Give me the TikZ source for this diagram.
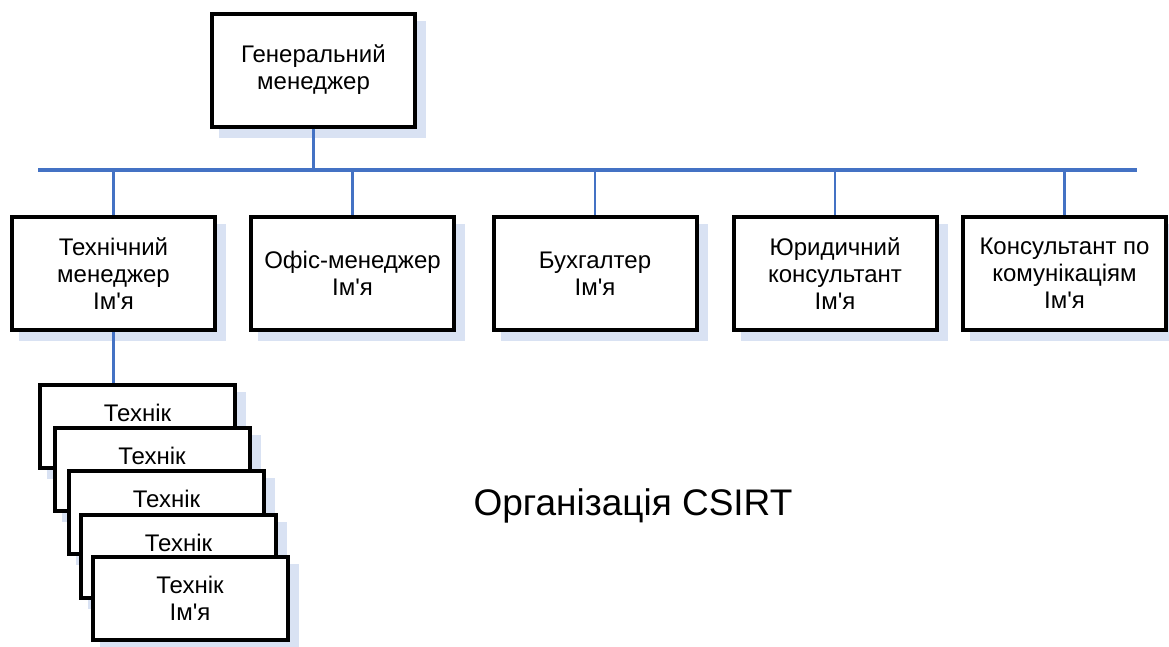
\documentclass[tikz,border=0pt]{standalone}
\usepackage{fontspec}
\newfontfamily\arial{Liberation Sans}
\usetikzlibrary{positioning}
\usetikzlibrary{shadows}
\definecolor{linkblue}{RGB}{68,114,196}
\definecolor{shadeblue}{RGB}{217,226,243}

\begin{document}
\begin{tikzpicture}[x=1pt, y=-1pt,
		box/.style={draw=black, line width=4pt, fill=white, align=center, inner sep=0pt, font=\arial\fontsize{24}{27}\selectfont, minimum width=203pt, minimum height=113pt, drop shadow={shadow xshift=9pt, shadow yshift=-9pt, fill=shadeblue, draw=shadeblue, line width=4pt, opacity=1}},
		techbox/.style={box, minimum width=195pt, minimum height=83pt},
		link/.style={draw=linkblue, line width=2.5pt},
		bus/.style={draw=linkblue, line width=4pt}]
		\useasboundingbox (0, 0) rectangle (1169, 646);
		% top of the chart
		\node (gm) at (313.5, 70) [box] {Генеральний\\менеджер};
		\coordinate (busl) at (38, 170);
		\coordinate (busr) at (1137, 170);
		% second row
		\node (tech) at (113.5, 273.5) [box] {Технічний\\менеджер\\Ім'я};
		\node (office) at (352.5, 273.5) [box] {Офіс-менеджер\\Ім'я};
		\node (acct) at (595, 273.5) [box] {Бухгалтер\\Ім'я};
		\node (lawyer) at (835, 273.5) [box] {Юридичний\\консультант\\Ім'я};
		\node (comms) at (1064.5, 273.5) [box] {Консультант по\\комунікаціям\\Ім'я};
		% stack of technicians, each one hides the lower half of the one before
		\node (tech1) at (137.5, 426) [techbox] {Технік\\\phantom{Ім'я}};
		\node (tech2) at (152, 469) [techbox] {Технік\\\phantom{Ім'я}};
		\node (tech3) at (166.5, 512) [techbox] {Технік\\\phantom{Ім'я}};
		\node (tech4) at (178.5, 556) [techbox] {Технік\\\phantom{Ім'я}};
		\node (tech5) at (190, 598) [techbox] {Технік\\Ім'я};
		\node (title) at (633, 515) [anchor=base, font=\arial\fontsize{37}{44}\selectfont] {Організація CSIRT};
		% connectors
		\draw[bus] (busl) -- (busr);
		\draw[link] (gm.south) -- (gm.south |- busl);
		\draw[link] (tech.north) -- (tech.north |- busl);
		\draw[link] (office.north) -- (office.north |- busl);
		\draw[link] (acct.north) -- (acct.north |- busl);
		\draw[link] (lawyer.north) -- (lawyer.north |- busl);
		\draw[link] (comms.north) -- (comms.north |- busl);
		\draw[link] (tech.south) -- (tech.south |- tech1.north);
	\end{tikzpicture}
\end{document}
